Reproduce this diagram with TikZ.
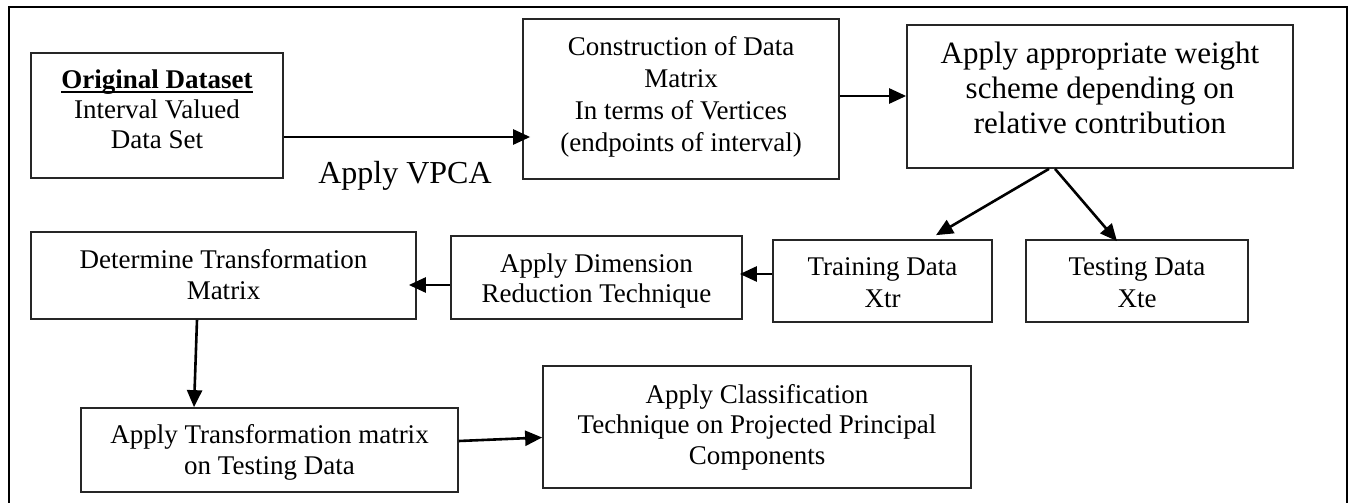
\documentclass[tikz,border=0pt]{standalone}
\usepackage{fontspec}
\setmainfont{Liberation Serif}
\usetikzlibrary{arrows.meta}
% underline drawn close under the baseline
\newcommand\ulword[1]{{\setbox0\hbox{#1}\rlap{\rule[-3.6pt]{\wd0}{1.6pt}}\box0}}

\begin{document}
\begin{tikzpicture}[x=1pt,y=-1pt,
  stepbox/.style={draw=black!85, line width=1.7pt, inner sep=0pt},
  txt/.style={align=center, inner sep=0pt, text=black},
  flow/.style={line width=2.6pt, -{Triangle[length=17pt,width=15pt]}},
]
\useasboundingbox (0,0) rectangle (1350,503);

% outer frame
\draw[line width=2.8pt] (9,503) -- (9,7) -- (1347,7) -- (1347,503);

% boxes
\node[stepbox, minimum width=252pt, minimum height=125pt] (a) at (157,115.5) {};
\node[stepbox, minimum width=316pt, minimum height=160pt] (b) at (681,99) {};
\node[stepbox, minimum width=386pt, minimum height=143pt] (c) at (1100,96.5) {};
\node[stepbox, minimum width=219pt, minimum height=82pt]  (d) at (882.5,281) {};
\node[stepbox, minimum width=222pt, minimum height=82pt]  (e) at (1137,281) {};
\node[stepbox, minimum width=291pt, minimum height=83pt]  (f) at (596.5,277.5) {};
\node[stepbox, minimum width=385pt, minimum height=87pt]  (g) at (223.5,275.5) {};
\node[stepbox, minimum width=377pt, minimum height=84pt]  (h) at (269.5,450) {};
\node[stepbox, minimum width=428pt, minimum height=122pt] (i) at (757,427) {};

% box texts
\node[txt, font=\fontsize{27}{30}\selectfont] (at) at (157,109.7)
  {\ulword{\textbf{Original Dataset}}\\Interval Valued\\Data Set};
\node[txt, font=\fontsize{27}{32}\selectfont] (bt) at (681,96.7)
  {Construction of Data\\Matrix\\In terms of Vertices\\(endpoints of interval)};
\node[txt, font=\fontsize{31}{35}\selectfont] (ct) at (1100,87.4)
  {Apply appropriate weight\\scheme depending on\\relative contribution};
\node[txt, font=\fontsize{27}{32}\selectfont] (dt) at (882.5,282.8) {Training Data\\Xtr};
\node[txt, font=\fontsize{27}{32}\selectfont] (et) at (1137,282.8) {Testing Data\\Xte};
\node[txt, font=\fontsize{27}{29.5}\selectfont] (ft) at (596.5,281)
  {Apply Dimension\\Reduction Technique};
\node[txt, font=\fontsize{27}{31}\selectfont] (gt) at (223.5,274.6)
  {Determine Transformation\\Matrix};
\node[txt, font=\fontsize{27}{30.7}\selectfont] (ht) at (269.5,452.4)
  {Apply Transformation matrix\\on Testing Data};
\node[txt, font=\fontsize{27}{30.5}\selectfont] (it) at (757,427.3)
  {Apply Classification\\Technique on Projected Principal\\Components};

% label under the first connector
\node[txt, anchor=base, font=\fontsize{32}{36}\selectfont] (vpca) at (405,183) {Apply VPCA};

% connectors
\draw[flow, shorten >=-8pt] ([yshift=-21.5pt]a.east) -- ([yshift=-38pt]b.west);
\draw[flow] ([yshift=3pt]b.east) -- ([yshift=0.5pt]c.west);
\draw[flow] ([xshift=-51pt]c.south) -- ([xshift=53.5pt,yshift=4pt]d.north);
\draw[flow] ([xshift=-45pt]c.south) -- ([xshift=-20pt,yshift=-2pt]e.north);
\draw[flow, shorten >=-3pt] ([yshift=7pt]d.west) -- ([yshift=3.5pt]f.east);
\draw[flow, shorten >=-8pt] ([yshift=-7.5pt]f.west) -- ([yshift=-9.5pt]g.east);
\draw[flow] ([xshift=-26.5pt]g.south) -- ([xshift=-75.5pt]h.north);
\draw[flow] ([yshift=9pt]h.east) -- ([yshift=-10.5pt]i.west);
\end{tikzpicture}
\end{document}
